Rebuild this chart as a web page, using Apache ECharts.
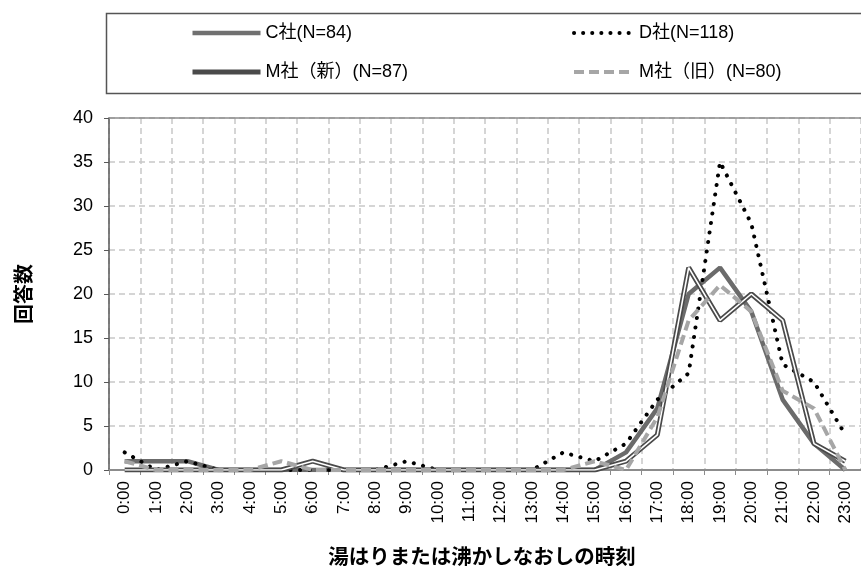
<!DOCTYPE html>
<html>
<head>
<meta charset="utf-8">
<script src="https://cdn.jsdelivr.net/npm/echarts@6/dist/echarts.min.js"></script>
<style>
  html, body { margin: 0; padding: 0; background: #fff; }
  #chart { width: 861px; height: 576px; }
</style>
</head>
<body>
<div id="chart"></div>
<script>
// 時刻 (x categories)
var hours = ['0:00','1:00','2:00','3:00','4:00','5:00','6:00','7:00','8:00','9:00','10:00','11:00',
  '12:00','13:00','14:00','15:00','16:00','17:00','18:00','19:00','20:00','21:00','22:00','23:00'];

var nameC = 'C社(N=84)';
var nameD = 'D社(N=118)';
var nameMNew = 'M社（新）(N=87)';
var nameMOld = 'M社（旧）(N=80)';

// 回答数 per hour
var cData    = [1,1,1,0,0,0,0,0,0,0,0,0,0,0,0,0,2,7,20,23,18,8,3,0];
var dData    = [2,0,1,0,0,0,0,0,0,1,0,0,0,0,2,1,3,8,11,35,28,12,10,4];
var mNewData = [0,0,0,0,0,0,1,0,0,0,0,0,0,0,0,0,1,4,23,17,20,17,3,1];
var mOldData = [1,0,0,0,0,1,0,0,0,0,0,0,0,0,0,1,0,6,17,21,18,9,7,0];

var fontLatin = '"Liberation Sans Narrow", "Liberation Sans", "Noto Sans CJK JP", sans-serif';
var fontCJK = '"Noto Sans CJK JP", sans-serif';

var legendText = { color: '#000', fontSize: 18, fontFamily: fontLatin, lineHeight: 18 };

var option = {
  backgroundColor: '#fff',
  animation: false,
  graphic: [{
    type: 'rect',
    shape: { x: 106.5, y: 13.5, width: 770, height: 80 },
    style: { fill: 'none', stroke: '#555', lineWidth: 1.5 },
    z: 0
  }],
  legend: [{
    orient: 'vertical',
    left: 190,
    top: 24,
    padding: 0,
    itemWidth: 68,
    itemHeight: 18,
    itemGap: 21,
    itemStyle: { opacity: 0 },
    textStyle: legendText,
    data: [
      { name: nameC, lineStyle: { color: '#707070', width: 4.5 } },
      { name: nameMNew, lineStyle: { color: '#4a4a4a', width: 5 } }
    ]
  }, {
    orient: 'vertical',
    left: 572,
    top: 24,
    padding: 0,
    itemWidth: 60,
    itemHeight: 18,
    itemGap: 21,
    itemStyle: { opacity: 0 },
    textStyle: legendText,
    data: [
      { name: nameD, lineStyle: { color: '#000', width: 4, type: [0.1, 9], cap: 'round' } },
      { name: nameMOld, lineStyle: { color: '#a6a6a6', width: 4, type: [10, 5] } }
    ]
  }],
  grid: { left: 109, right: -14, top: 118, bottom: 106 },
  xAxis: [{
    type: 'category',
    data: hours,
    boundaryGap: true,
    name: '湯はりまたは沸かしなおしの時刻',
    nameLocation: 'middle',
    nameGap: 76,
    nameTextStyle: { fontFamily: fontCJK, fontWeight: 'bold', fontSize: 20.5, color: '#000', padding: [0, 6, 0, 0] },
    axisLine: { lineStyle: { color: '#8c8c8c', width: 2 } },
    axisTick: { show: true, length: 5, lineStyle: { color: '#8c8c8c' } },
    axisLabel: { rotate: 90, fontSize: 17, color: '#000', fontFamily: '"Liberation Sans", sans-serif', margin: 11, interval: 0 },
    splitLine: { show: true, lineStyle: { color: '#c8c8c8', type: [6, 4], width: 1.5 } }
  }, {
    type: 'category',
    data: hours,
    position: 'top',
    axisLine: { show: true, lineStyle: { color: '#8c8c8c', width: 1.5 } },
    axisTick: { show: false },
    axisLabel: { show: false },
    splitLine: { show: false }
  }],
  yAxis: {
    type: 'value',
    min: 0,
    max: 40,
    interval: 5,
    name: '回答数',
    nameLocation: 'middle',
    nameGap: 76,
    nameTextStyle: { fontFamily: fontCJK, fontWeight: 'bold', fontSize: 20, color: '#000' },
    axisLine: { show: true, lineStyle: { color: '#595959', width: 1.5 } },
    axisTick: { show: true, length: 5, inside: false, lineStyle: { color: '#595959' } },
    axisLabel: { fontSize: 18, color: '#000', fontFamily: '"Liberation Sans", sans-serif', margin: 16 },
    splitLine: { show: true, lineStyle: { color: '#c8c8c8', type: [6, 4], width: 1.5 } }
  },
  series: [{
    name: nameC,
    type: 'line',
    symbol: 'none',
    data: cData,
    lineStyle: { color: '#6b6b6b', width: 4.5 },
    itemStyle: { color: '#6b6b6b' },
    z: 2
  }, {
    name: nameD,
    type: 'line',
    symbol: 'none',
    data: dData,
    lineStyle: { color: '#000', width: 4, type: [0.1, 9.5], cap: 'round' },
    itemStyle: { color: '#000' },
    z: 3
  }, {
    name: nameMNew,
    type: 'line',
    symbol: 'none',
    data: mNewData,
    lineStyle: { color: '#4a4a4a', width: 5 },
    itemStyle: { color: '#4a4a4a' },
    z: 4
  }, {
    name: nameMNew,
    type: 'line',
    symbol: 'none',
    data: mNewData,
    lineStyle: { color: '#ffffff', width: 1.6 },
    itemStyle: { color: '#4a4a4a' },
    z: 5
  }, {
    name: nameMOld,
    type: 'line',
    symbol: 'none',
    data: mOldData,
    lineStyle: { color: '#a6a6a6', width: 4, type: [10, 5] },
    itemStyle: { color: '#a6a6a6' },
    z: 6
  }]
};

var myChart = echarts.init(document.getElementById('chart'));
myChart.setOption(option);
</script>
</body>
</html>
